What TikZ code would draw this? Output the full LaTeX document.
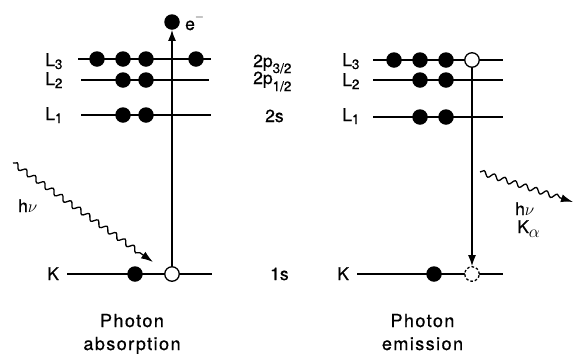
\documentclass[tikz,border=0pt]{standalone}
\usepackage{fontspec}
\setmainfont[FakeBold=0.6]{TeX Gyre Heros}
\newfontfamily\spacedfont[LetterSpace=8,FakeBold=0.6]{TeX Gyre Heros}
\usetikzlibrary{arrows.meta,decorations.pathmorphing}
\newcommand\lsub[2][3pt]{\raisebox{-#1}{\fontsize{13.5}{13.5}\selectfont #2}}
\tikzset{
  level/.style={line width=1.6pt},
  edot/.style={circle,fill=black,inner sep=0pt,minimum size=15.5pt},
  hole/.style={circle,draw=black,fill=white,line width=1.3pt,inner sep=0pt,minimum size=14.5pt},
  dhole/.style={hole,dash pattern=on 2.6pt off 2pt},
  lab/.style={font=\fontsize{17.5}{17.5}\selectfont,inner sep=0pt,anchor=base west},
  capt/.style={font=\spacedfont\fontsize{18}{22}\selectfont,inner sep=0pt,anchor=base},
  trans/.style={line width=1.3pt,-{Latex[length=11pt,width=8pt]}},
  wave/.style={line width=1.3pt,decorate,
    decoration={snake,amplitude=2.6pt,segment length=11pt,post length=11pt},
    -{Latex[length=12pt,width=8pt]}},
}
\begin{document}
\begin{tikzpicture}[x=1pt,y=-1pt]
\useasboundingbox (0,0) rectangle (578,354);
% ---------- left: level lines
\coordinate (aL3a) at (78,59);  \coordinate (aL3b) at (211,59);
\coordinate (aL2a) at (81,80);  \coordinate (aL2b) at (209,80);
\coordinate (aL1a) at (81,115); \coordinate (aL1b) at (211,115);
\coordinate (aKa)  at (67,274); \coordinate (aKb)  at (212,274);
\draw[level] (aL3a) -- (aL3b);
\draw[level] (aL2a) -- (aL2b);
\draw[level] (aL1a) -- (aL1b);
\draw[level] (aKa) -- (aKb);
% ---------- right: level lines
\coordinate (bL3a) at (373,60);  \coordinate (bL3b) at (503,60);
\coordinate (bL2a) at (373,80);  \coordinate (bL2b) at (503,80);
\coordinate (bL1a) at (373,117); \coordinate (bL1b) at (503,117);
\coordinate (bKa)  at (357,274); \coordinate (bKb)  at (503,274);
\draw[level] (bL3a) -- (bL3b);
\draw[level] (bL2a) -- (bL2b);
\draw[level] (bL1a) -- (bL1b);
\draw[level] (bKa) -- (bKb);
% ---------- left electrons
\node[edot] (a31) at (97,59) {};
\node[edot] (a32) at (123,59) {};
\node[edot] (a33) at (146,59) {};
\node[edot] (a34) at (196,59) {};
\node[edot] (a21) at (123,80) {};
\node[edot] (a22) at (146,80) {};
\node[edot] (a11) at (123,115) {};
\node[edot] (a12) at (146,115) {};
\node[edot] (aK1) at (135,274) {};
\node[hole] (aKh) at (172,274) {};
\node[edot] (efree) at (172,22) {};
\draw[trans] (aKh.north) -- (efree.south);
% ---------- right electrons
\node[edot] (b31) at (394,60) {};
\node[edot] (b32) at (420,60) {};
\node[edot] (b33) at (446,60) {};
\node[hole] (b3h) at (472,60) {};
\node[edot] (b21) at (420,80) {};
\node[edot] (b22) at (446,80) {};
\node[edot] (b11) at (420,117) {};
\node[edot] (b12) at (446,117) {};
\node[edot] (bK1) at (434,274) {};
\node[dhole] (bKh) at (472,274) {};
\draw[trans] (b3h.south) -- (bKh.north);
% ---------- photons
\coordinate (w1s) at (13,163);  \coordinate (w1e) at (153,262);
\draw[wave] (w1s) -- (w1e);
\coordinate (w2s) at (480,172); \coordinate (w2e) at (573,202);
\draw[wave] (w2s) -- (w2e);
% ---------- labels
\node[lab] (tL3a) at (45,66) {L\lsub{3}};
\node[lab] (tL2a) at (45,85) {L\lsub{2}};
\node[lab] (tL1a) at (45,120) {L\lsub{1}};
\node[lab] (tKa) at (47,280) {K};
\node[lab] (tL3b) at (342,66) {L\lsub{3}};
\node[lab] (tL2b) at (342,86) {L\lsub{2}};
\node[lab] (tL1b) at (342,121) {L\lsub{1}};
\node[lab] (tKb) at (337,280) {K};
\node[lab] (te) at (185,30) {e\raisebox{10pt}{\fontsize{13}{13}\selectfont $-$}};
\node[lab] (t2p3) at (253,67) {2p\lsub[6pt]{3/2}};
\node[lab] (t2p1) at (253,84) {2p\lsub[7pt]{1/2}};
\node[lab] (t2s) at (265,122) {2s};
\node[lab] (t1s) at (270,280) {1s};
\node[lab] (thva) at (18,212) {h$\nu$};
\node[lab] (thvb) at (515,215) {h$\nu$};
\node[lab] (tKal) at (517,233) {K\raisebox{-4pt}{\fontsize{17}{17}\selectfont $\alpha$}};
\node[capt] (c1a) at (132,327) {Photon};
\node[capt] (c1b) at (132,350) {absorption};
\node[capt] (c2a) at (422.5,327) {Photon};
\node[capt] (c2b) at (422.5,350) {emission};
\end{tikzpicture}
\end{document}
